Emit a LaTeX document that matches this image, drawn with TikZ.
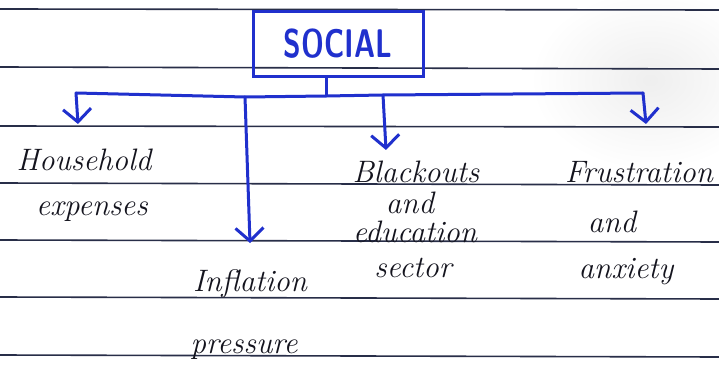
\documentclass[tikz,border=0pt]{standalone}
\usetikzlibrary{arrows.meta}
\definecolor{inkblue}{RGB}{32,48,205}
\definecolor{inkblack}{RGB}{20,20,30}
\definecolor{ruling}{RGB}{40,46,72}
\begin{document}
\begin{tikzpicture}[x=1pt,y=-1pt,
  rule/.style={ruling,line width=1.6pt},
  inkline/.style={inkblue,line width=3pt,line cap=round,line join=round},
  inkarrow/.style={inkline,-{Straight Barb[length=13pt,width=28pt,line width=3pt]}},
  note/.style={inkblack,font=\fontsize{31}{34}\selectfont\itshape,inner sep=0pt,anchor=center},
  headbox/.style={draw=inkblue,line width=3pt,minimum width=170pt,minimum height=65pt,
    inkblue,font=\fontsize{40}{44}\selectfont\sffamily\bfseries}]
  \useasboundingbox (0,0) rectangle (719,374);
  % paper
  \fill[white] (0,0) rectangle (719,374);
  \begin{scope}
    \clip (0,0) rectangle (719,374);
    \shade[inner color=gray!13,outer color=white] (650,80) ellipse (120 and 90);
  \end{scope}
  % ruled lines
  \foreach \yy/\tilt in {9/1,67/2,126/1,183/2,240/2,297/2,355/2}
    \draw[rule] (0,\yy) -- (719,\yy+\tilt);
  % heading
  \node[headbox] (social) at (338,44) {\scalebox{0.72}[1]{SOCIAL}};
  % branching bar
  \coordinate (hub) at (326,96);
  \coordinate (barL) at (76,93);
  \coordinate (barR) at (643,93);
  \coordinate (bInf) at (245,97);
  \coordinate (bBlk) at (383,95);
  \draw[inkline] (social.south -| hub) -- (hub);
  \draw[inkline] (barL) -- (bInf) -- (hub) -- (bBlk) -- (barR);
  % arrow ends
  \coordinate (tHou) at (78,124);
  \coordinate (tInf) at (250,243);
  \coordinate (tBlk) at (386,150);
  \coordinate (tFru) at (646,124);
  \draw[inkarrow] (barL) -- (tHou);
  \draw[inkarrow] (bInf) -- (tInf);
  \draw[inkarrow] (bBlk) -- (tBlk);
  \draw[inkarrow] (barR) -- (tFru);
  % labels
  \node[note] (hou1) at (84,160) {Household};
  \node[note] (hou2) at (92,212) {expenses};
  \node[note] (inf1) at (250,284) {Inflation};
  \node[note] (inf2) at (244,350) {pressure};
  \node[note] (blk1) at (416,172) {Blackouts};
  \node[note] (blk2) at (410,203) {and};
  \node[note] (blk3) at (415,232) {education};
  \node[note] (blk4) at (413,268) {sector};
  \node[note] (fru1) at (639,172) {Frustration};
  \node[note] (fru2) at (612,222) {and};
  \node[note] (fru3) at (626,272) {anxiety};
\end{tikzpicture}
\end{document}
